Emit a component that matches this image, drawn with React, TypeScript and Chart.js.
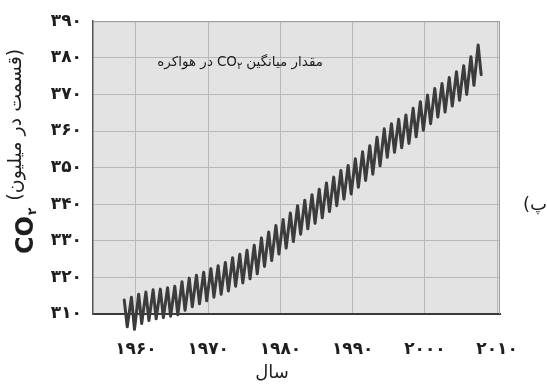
import React, { useEffect, useRef } from "react";
import { Chart, registerables } from "chart.js";

Chart.register(...registerables);

// Seasonal maximum (about May) and minimum (about October) of each year
const years = [
  1958, 1959, 1960, 1961, 1962, 1963, 1964, 1965, 1966, 1967,
  1968, 1969, 1970, 1971, 1972, 1973, 1974, 1975, 1976, 1977,
  1978, 1979, 1980, 1981, 1982, 1983, 1984, 1985, 1986, 1987,
  1988, 1989, 1990, 1991, 1992, 1993, 1994, 1995, 1996, 1997,
  1998, 1999, 2000, 2001, 2002, 2003, 2004, 2005, 2006, 2007,
];
const peaks = [
  313.8, 314.6, 315.4, 316.0, 316.6, 316.8, 317.2, 317.6, 318.8, 319.8,
  320.6, 321.4, 322.4, 323.2, 324.1, 325.4, 326.3, 327.4, 328.8, 330.8,
  332.4, 334.2, 335.8, 337.6, 339.6, 341.1, 342.6, 344.1, 345.8, 347.4,
  349.2, 350.6, 352.4, 354.3, 356.0, 358.3, 360.6, 362.0, 363.2, 364.4,
  366.2, 368.0, 369.8, 371.6, 373.0, 374.6, 376.2, 377.8, 380.3, 383.5,
];
const troughs = [
  306.5, 305.8, 307.4, 308.2, 308.7, 309.0, 309.4, 309.8, 311.0, 312.0,
  312.8, 313.6, 314.6, 315.4, 316.3, 317.6, 318.5, 319.6, 321.0, 323.0,
  324.6, 326.4, 328.0, 329.8, 331.8, 333.3, 334.8, 336.3, 338.0, 339.6,
  341.4, 342.8, 344.6, 346.5, 348.2, 350.5, 352.8, 354.2, 355.4, 356.6,
  358.4, 360.2, 362.0, 363.8, 365.2, 366.8, 368.4, 370.0, 372.5, 375.4,
];
const peakMonth = 5;
const troughMonth = 10;

const yTickValues = [310, 320, 330, 340, 350, 360, 370, 380, 390];
const yTickLabels = ["۳۱۰", "۳۲۰", "۳۳۰", "۳۴۰", "۳۵۰", "۳۶۰", "۳۷۰", "۳۸۰", "۳۹۰"];
const xTickValues = [1960, 1970, 1980, 1990, 2000, 2010];
const xTickLabels = ["۱۹۶۰", "۱۹۷۰", "۱۹۸۰", "۱۹۹۰", "۲۰۰۰", "۲۰۱۰"];

const plotTitleRight = "مقدار میانگین";
const plotTitleLeft = "در هواکره";
const coText = "CO";
const subTwo = "۲";
const yUnit = "(قسمت در میلیون)";
const xTitle = "سال";
const panelLabel = "(پ)";

const FONT = "'DejaVu Sans', sans-serif";

export default function App() {
  const ref = useRef<HTMLCanvasElement | null>(null);

  useEffect(() => {
    document.body.style.margin = "0";
    const canvas = ref.current;
    if (!canvas) return;

    const points: { x: number; y: number }[] = [];
    years.forEach((yr, i) => {
      points.push({ x: yr + (peakMonth - 0.5) / 12, y: peaks[i] });
      points.push({ x: yr + (troughMonth - 0.5) / 12, y: troughs[i] });
    });

    const decor = {
      id: "decor",
      beforeDraw(chart: any) {
        const { ctx, chartArea: a } = chart;
        ctx.save();
        ctx.fillStyle = "#ffffff";
        ctx.fillRect(0, 0, chart.width, chart.height);
        ctx.fillStyle = "#e3e3e3";
        ctx.fillRect(a.left, a.top, a.right - a.left, a.bottom - a.top);
        ctx.restore();
      },
      beforeDatasetsDraw(chart: any) {
        const { ctx, chartArea: a } = chart;
        ctx.save();
        ctx.strokeStyle = "#9a9a9a";
        ctx.lineWidth = 1;
        ctx.beginPath();
        ctx.moveTo(a.left, a.top + 0.5);
        ctx.lineTo(a.right - 0.5, a.top + 0.5);
        ctx.lineTo(a.right - 0.5, a.bottom);
        ctx.stroke();
        ctx.restore();
      },
      afterDraw(chart: any) {
        const { ctx } = chart;
        ctx.save();
        ctx.fillStyle = "#1e1e1e";
        ctx.textBaseline = "alphabetic";

        // plot title inside the plot area
        const tf = 13.5;
        ctx.font = `${tf}px ${FONT}`;
        (ctx as any).direction = "rtl";
        ctx.textAlign = "right";
        let x = 323;
        const y = 66;
        ctx.fillText(plotTitleRight, x, y);
        x -= ctx.measureText(plotTitleRight).width + 4;
        (ctx as any).direction = "ltr";
        ctx.font = `${tf}px ${FONT}`;
        const wCO = ctx.measureText(coText).width;
        ctx.font = `10px ${FONT}`;
        const wSub = ctx.measureText(subTwo).width;
        const coLeft = x - wCO - wSub;
        ctx.textAlign = "left";
        ctx.font = `${tf}px ${FONT}`;
        ctx.fillText(coText, coLeft, y);
        ctx.font = `10px ${FONT}`;
        ctx.fillText(subTwo, coLeft + wCO, y + 3);
        (ctx as any).direction = "rtl";
        ctx.textAlign = "right";
        ctx.font = `${tf}px ${FONT}`;
        ctx.fillText(plotTitleLeft, coLeft - 4, y);

        // x axis title
        ctx.font = `18px ${FONT}`;
        ctx.textAlign = "center";
        ctx.fillText(xTitle, 272, 378);

        // panel label
        ctx.font = `18px ${FONT}`;
        ctx.textAlign = "left";
        ctx.fillText(panelLabel, 523, 210);

        // y axis title, rotated
        ctx.translate(33, 254);
        ctx.rotate(-Math.PI / 2);
        (ctx as any).direction = "ltr";
        ctx.textAlign = "left";
        ctx.font = `bold 24px ${FONT}`;
        ctx.fillText(coText, 0, 0);
        const w1 = ctx.measureText(coText).width;
        ctx.font = `bold 12px ${FONT}`;
        ctx.fillText(subTwo, w1 + 1, 3);
        const w2 = ctx.measureText(subTwo).width;
        ctx.font = `19px ${FONT}`;
        (ctx as any).direction = "rtl";
        ctx.textAlign = "left";
        ctx.fillText(yUnit, w1 + w2 + 8, -12);
        ctx.restore();
      },
    };

    const chart = new Chart(canvas, {
      type: "line",
      data: {
        datasets: [
          {
            data: points,
            borderColor: "#3c3c3c",
            borderWidth: 3,
            borderJoinStyle: "round",
            borderCapStyle: "round",
            pointRadius: 0,
            tension: 0,
            fill: false,
            clip: false as any,
          },
        ],
      },
      options: {
        animation: false,
        responsive: true,
        maintainAspectRatio: false,
        layout: { padding: { top: 19, right: 47, left: 0, bottom: 0 } },
        plugins: {
          legend: { display: false },
          tooltip: { enabled: false },
          title: { display: false },
        },
        scales: {
          x: {
            type: "linear",
            min: 1954.05,
            max: 2010.4,
            afterBuildTicks: (s: any) => {
              s.ticks = xTickValues.map((v) => ({ value: v }));
            },
            afterFit: (s: any) => {
              s.height = 73;
            },
            ticks: {
              autoSkip: false,
              maxRotation: 0,
              padding: 25,
              color: "#1e1e1e",
              font: { family: FONT, size: 17, weight: "bold" },
              callback: (v: any) => {
                const i = xTickValues.indexOf(Number(v));
                return i >= 0 ? xTickLabels[i] : "";
              },
            },
            grid: { color: "#b8b8b8", lineWidth: 1, drawTicks: false },
            border: { color: "#3a3a3a", width: 2 },
          },
          y: {
            type: "linear",
            min: 310,
            max: 390,
            afterBuildTicks: (s: any) => {
              s.ticks = yTickValues.map((v) => ({ value: v }));
            },
            afterFit: (s: any) => {
              s.width = 93;
            },
            ticks: {
              autoSkip: false,
              padding: 11,
              color: "#1e1e1e",
              font: { family: FONT, size: 17, weight: "bold" },
              callback: (v: any) => {
                const i = yTickValues.indexOf(Number(v));
                return i >= 0 ? yTickLabels[i] : "";
              },
            },
            grid: { color: "#b8b8b8", lineWidth: 1, drawTicks: false },
            border: { color: "#555555", width: 1.5 },
          },
        },
      },
      plugins: [decor],
    });

    return () => chart.destroy();
  }, []);

  return (
    <div style={{ width: 547, height: 387, position: "relative" }}>
      <canvas ref={ref} />
    </div>
  );
}
